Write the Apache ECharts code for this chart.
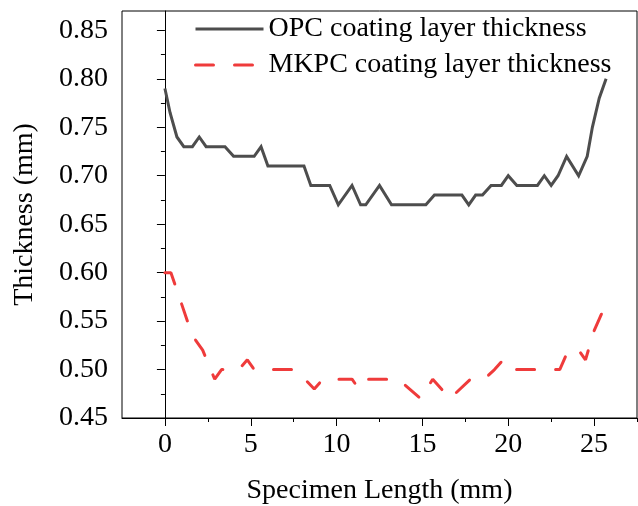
<!DOCTYPE html>
<html>
<head>
<meta charset="utf-8">
<script src="https://cdn.jsdelivr.net/npm/echarts@6/dist/echarts.min.js"></script>
<style>
html,body{margin:0;padding:0;background:#fff;}
#chart{width:638px;height:506px;}
</style>
</head>
<body>
<div id="chart"></div>
<script>
// ---- data ----
var opcX = [0, 0.3, 0.7, 1.1, 1.6, 2.0, 2.4, 3.5, 4.0, 5.2, 5.6, 6.0, 8.1, 8.5, 9.6, 10.1, 10.9, 11.4, 11.7, 12.5, 13.2, 15.2, 15.7, 17.3, 17.7, 18.1, 18.5, 19.0, 19.6, 20.0, 20.5, 21.7, 22.1, 22.5, 22.9, 23.4, 24.1, 24.6, 24.9, 25.3, 25.7];
var opcY = [0.79, 0.765, 0.74, 0.73, 0.73, 0.74, 0.73, 0.73, 0.72, 0.72, 0.73, 0.71, 0.71, 0.69, 0.69, 0.67, 0.69, 0.67, 0.67, 0.69, 0.67, 0.67, 0.68, 0.68, 0.67, 0.68, 0.68, 0.69, 0.69, 0.70, 0.69, 0.69, 0.70, 0.69, 0.70, 0.72, 0.70, 0.72, 0.75, 0.78, 0.80];
var mkpcX = [0, 0.35, 1.6, 2.2, 2.9, 3.3, 4.3, 4.8, 5.2, 7.6, 8.7, 9.2, 10.9, 11.3, 11.8, 13.6, 14.9, 15.6, 16.6, 17.8, 18.6, 19.2, 19.7, 20.2, 23.0, 23.5, 24.1, 24.5, 25.0, 25.5];
var mkpcY = [0.60, 0.60, 0.535, 0.52, 0.49, 0.50, 0.50, 0.51, 0.50, 0.50, 0.48, 0.49, 0.49, 0.48, 0.49, 0.49, 0.47, 0.49, 0.47, 0.49, 0.49, 0.50, 0.51, 0.50, 0.50, 0.52, 0.52, 0.51, 0.54, 0.56];
var xMajorTicks = [0, 5, 10, 15, 20, 25];
var xMinorTicks = [2.5, 7.5, 12.5, 17.5, 22.5, 27.5];
var yMajorTicks = [0.45, 0.50, 0.55, 0.60, 0.65, 0.70, 0.75, 0.80, 0.85];
var yMinorTicks = [0.475, 0.525, 0.575, 0.625, 0.675, 0.725, 0.775, 0.825];
var seriesNames = ['OPC coating layer thickness', 'MKPC coating layer thickness'];
var xName = 'Specimen Length (mm)';
var yName = 'Thickness (mm)';

function pairs(xs, ys) { return xs.map(function (x, i) { return [x, ys[i]]; }); }

var FONT = '"Liberation Serif", "Times New Roman", serif';
var FS = 28;
var chart = echarts.init(document.getElementById('chart'));
var xRange = { min: -2.5, max: 27.5 };
var yRange = { min: 0.45, max: 0.87 };
chart.setOption({
  animation: false,
  backgroundColor: '#fff',
  grid: { left: 122, right: 1, top: 11, bottom: 88, outerBoundsMode: 'none', containLabel: false,
    show: true, borderColor: '#000', borderWidth: 1, backgroundColor: 'transparent' },
  legend: {
    orient: 'vertical', left: 194, top: 15, padding: 0, itemWidth: 68, itemHeight: 14, itemGap: 8,
    itemStyle: { opacity: 0 },
    lineStyle: { width: 3 },
    textStyle: { fontFamily: FONT, fontSize: FS, color: '#000' },
    data: seriesNames
  },
  xAxis: [{
    type: 'value', min: xRange.min, max: xRange.max,
    name: xName, nameLocation: 'middle', nameGap: 59,
    nameTextStyle: { fontFamily: FONT, fontSize: FS, color: '#000' },
    axisLine: { show: true, lineStyle: { color: '#000', width: 1 } },
    axisTick: { show: true, inside: false, length: 8, customValues: xMajorTicks, lineStyle: { color: '#000', width: 1 } },
    axisLabel: { customValues: xMajorTicks, margin: 13, fontFamily: FONT, fontSize: FS, color: '#000' },
    splitLine: { show: false }
  }, {
    type: 'value', min: xRange.min, max: xRange.max, position: 'bottom',
    axisLine: { show: false },
    axisTick: { show: true, length: 4, customValues: xMinorTicks, lineStyle: { color: '#000', width: 1 } },
    axisLabel: { show: false }, splitLine: { show: false }
  }],
  yAxis: [{
    type: 'value', min: yRange.min, max: yRange.max,
    name: yName, nameLocation: 'middle', nameGap: 83,
    nameTextStyle: { fontFamily: FONT, fontSize: FS, color: '#000' },
    axisLine: { show: true, lineStyle: { color: '#000', width: 1 } },
    axisTick: { show: true, length: 8, customValues: yMajorTicks, lineStyle: { color: '#000', width: 1 } },
    axisLabel: { customValues: yMajorTicks, margin: 14, fontFamily: FONT, fontSize: FS, color: '#000',
      formatter: function (v) { return v.toFixed(2); } },
    splitLine: { show: false }
  }, {
    type: 'value', min: yRange.min, max: yRange.max, position: 'left',
    axisLine: { show: false },
    axisTick: { show: true, length: 4, customValues: yMinorTicks, lineStyle: { color: '#000', width: 1 } },
    axisLabel: { show: false }, splitLine: { show: false }
  }],
  series: [{
    name: seriesNames[0], type: 'line', xAxisIndex: 0, yAxisIndex: 0,
    data: pairs(opcX, opcY), symbol: 'none', showSymbol: false,
    itemStyle: { color: '#4d4d4d' },
    lineStyle: { color: '#4d4d4d', width: 3, join: 'miter' }
  }, {
    name: seriesNames[1], type: 'line', xAxisIndex: 0, yAxisIndex: 0,
    data: pairs(mkpcX, mkpcY), symbol: 'none', showSymbol: false,
    itemStyle: { color: '#ef3b3b' },
    lineStyle: { color: '#ef3b3b', width: 3, type: [18, 21], cap: 'round' }
  }]
});
</script>
</body>
</html>
